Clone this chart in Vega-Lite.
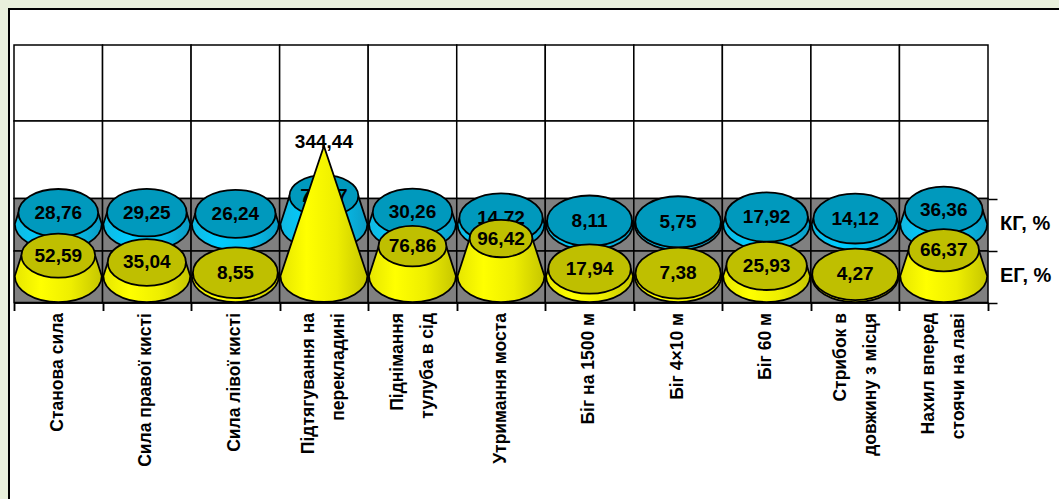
{
"$schema":"https://vega.github.io/schema/vega-lite/v6.json",
"autosize":"none",
"padding":{"left":9,"top":9,"right":0,"bottom":0},
"width":1051,"height":491,
"background":"#e9f0dc",
"config":{"view":{"fill":"white","stroke":"black","strokeWidth":2},"font":"Liberation Sans"},
"resolve":{"axis":{"x":"independent"}},
"data":{"values":[
{"category":"Станова сила","series":"КГ, %","value":28.76,"label":"28,76"},
{"category":"Сила правої кисті","series":"КГ, %","value":29.25,"label":"29,25"},
{"category":"Сила лівої кисті","series":"КГ, %","value":26.24,"label":"26,24"},
{"category":"Підтягування на|перекладині","series":"КГ, %","value":72.77,"label":"72,77"},
{"category":"Піднімання|тулуба в сід","series":"КГ, %","value":30.26,"label":"30,26"},
{"category":"Утримання моста","series":"КГ, %","value":14.72,"label":"14,72"},
{"category":"Біг на 1500 м","series":"КГ, %","value":8.11,"label":"8,11"},
{"category":"Біг 4×10 м","series":"КГ, %","value":5.75,"label":"5,75"},
{"category":"Біг 60 м","series":"КГ, %","value":17.92,"label":"17,92"},
{"category":"Стрибок в|довжину з місця","series":"КГ, %","value":14.12,"label":"14,12"},
{"category":"Нахил вперед|стоячи на лаві","series":"КГ, %","value":36.36,"label":"36,36"},
{"category":"Станова сила","series":"ЕГ, %","value":52.59,"label":"52,59"},
{"category":"Сила правої кисті","series":"ЕГ, %","value":35.04,"label":"35,04"},
{"category":"Сила лівої кисті","series":"ЕГ, %","value":8.55,"label":"8,55"},
{"category":"Підтягування на|перекладині","series":"ЕГ, %","value":344.44,"label":"344,44"},
{"category":"Піднімання|тулуба в сід","series":"ЕГ, %","value":76.86,"label":"76,86"},
{"category":"Утримання моста","series":"ЕГ, %","value":96.42,"label":"96,42"},
{"category":"Біг на 1500 м","series":"ЕГ, %","value":17.94,"label":"17,94"},
{"category":"Біг 4×10 м","series":"ЕГ, %","value":7.38,"label":"7,38"},
{"category":"Біг 60 м","series":"ЕГ, %","value":25.93,"label":"25,93"},
{"category":"Стрибок в|довжину з місця","series":"ЕГ, %","value":4.27,"label":"4,27"},
{"category":"Нахил вперед|стоячи на лаві","series":"ЕГ, %","value":66.37,"label":"66,37"}
]},
"encoding":{
"x":{"field":"category","type":"nominal","sort":null,"axis":null,
"scale":{"domain":["Станова сила","Сила правої кисті","Сила лівої кисті","Підтягування на|перекладині","Піднімання|тулуба в сід","Утримання моста","Біг на 1500 м","Біг 4×10 м","Біг 60 м","Стрибок в|довжину з місця","Нахил вперед|стоячи на лаві"],"range":[5,979],"paddingInner":0,"paddingOuter":0}},
"shape":{"field":"value","type":"nominal","legend":null,"scale":{
"domain":[28.76,29.25,26.24,72.77,30.26,14.72,8.11,5.75,17.92,14.12,36.36,52.59,35.04,8.55,344.44,76.86,96.42,17.94,7.38,25.93,4.27,66.37],
"range":[
"M-43.5,11.19A43.5,26,0,0,0,43.5,11.19L39.87,0L-39.87,0Z",
"M-43.5,11.38A43.5,26,0,0,0,43.5,11.38L39.81,0L-39.81,0Z",
"M-43.5,10.21A43.5,26,0,0,0,43.5,10.21L40.19,0L-40.19,0Z",
"M-43.5,28.31A43.5,26,0,0,0,43.5,28.31L34.31,0L-34.31,0Z",
"M-43.5,11.77A43.5,26,0,0,0,43.5,11.77L39.68,0L-39.68,0Z",
"M-43.5,5.73A43.5,26,0,0,0,43.5,5.73L41.64,0L-41.64,0Z",
"M-43.5,3.15A43.5,26,0,0,0,43.5,3.15L42.48,0L-42.48,0Z",
"M-43.5,2.24A43.5,26,0,0,0,43.5,2.24L42.77,0L-42.77,0Z",
"M-43.5,6.97A43.5,26,0,0,0,43.5,6.97L41.24,0L-41.24,0Z",
"M-43.5,5.49A43.5,26,0,0,0,43.5,5.49L41.72,0L-41.72,0Z",
"M-43.5,14.14A43.5,26,0,0,0,43.5,14.14L38.91,0L-38.91,0Z",
"M-43.5,20.46A43.5,26,0,0,0,43.5,20.46L36.86,0L-36.86,0Z",
"M-43.5,13.63A43.5,26,0,0,0,43.5,13.63L39.07,0L-39.07,0Z",
"M-43.5,3.33A43.5,26,0,0,0,43.5,3.33L42.42,0L-42.42,0Z",
"M-43.5,134A43.5,26,0,0,0,43.5,134L0,4Z",
"M-43.5,29.9A43.5,26,0,0,0,43.5,29.9L33.79,0L-33.79,0Z",
"M-43.5,37.51A43.5,26,0,0,0,43.5,37.51L31.32,0L-31.32,0Z",
"M-43.5,6.98A43.5,26,0,0,0,43.5,6.98L41.23,0L-41.23,0Z",
"M-43.5,2.87A43.5,26,0,0,0,43.5,2.87L42.57,0L-42.57,0Z",
"M-43.5,10.09A43.5,26,0,0,0,43.5,10.09L40.23,0L-40.23,0Z",
"M-43.5,1.66A43.5,26,0,0,0,43.5,1.66L42.96,0L-42.96,0Z",
"M-43.5,25.82A43.5,26,0,0,0,43.5,25.82L35.12,0L-35.12,0Z"]}}
},
"layer":[
{"transform":[{"filter":"datum.series==='КГ, %'"}],"mark":{"type":"rect","fill":"white","stroke":"black","strokeWidth":1.5},
"encoding":{"shape":null,
"x":{"field":"category","type":"nominal","sort":null,"axis":{"title":null,"offset":-197.5,"orient":"bottom","tickBand":"extent","tickSize":8,"tickWidth":1.5,"tickColor":"black","domainColor":"black","domainWidth":1.5,"labelAngle":-90,"labelAlign":"right","labelBaseline":"middle","labelPadding":2,"labelFont":"Liberation Sans","labelFontWeight":"bold","labelFontSize":17.5,"labelColor":"black","labelOverlap":false,"labelLimit":0,"labelOffset":-1,
"labelExpr":"indexof(datum.label,'|')>=0 ? '' : datum.label"}},
"y":{"datum":593.8,"type":"quantitative","scale":{"domain":[-68,593.8],"range":[293.5,36],"nice":false,"zero":false},
"axis":{"title":null,"orient":"right","offset":-72,"values":[-68,64.3,199.2],"grid":false,"labels":false,"domain":false,"tickSize":9,"tickWidth":1.5,"tickColor":"black"}},"y2":{"datum":398.5}}},
{"transform":[{"filter":"datum.series==='КГ, %'"}],"mark":{"type":"rect","fill":"white","stroke":"black","strokeWidth":1.5},
"encoding":{"shape":null,
"x":{"field":"category","type":"nominal","sort":null,"axis":{"title":null,"offset":-197.5,"orient":"bottom","tickBand":"extent","tickSize":8,"tickWidth":1.5,"tickColor":"black","domainColor":"black","domainWidth":1.5,"labelAngle":-90,"labelAlign":"right","labelBaseline":"middle","labelPadding":2,"labelFont":"Liberation Sans","labelFontWeight":"bold","labelFontSize":17.5,"labelColor":"black","labelLineHeight":30,"labelOverlap":false,"labelLimit":0,"labelOffset":-15,
"labelExpr":"indexof(datum.label,'|')>=0 ? split(replace(replace(replace(datum.label,'Стрибок в','Стрибок в\u00a0\u00a0\u00a0\u00a0\u00a0\u00a0\u00a0'),'Піднімання','Піднімання\u00a0\u00a0\u00a0'),'перекладині','перекладині\u00a0\u00a0\u00a0\u00a0'),'|') : ''"}},
"y":{"datum":398.5,"type":"quantitative"},"y2":{"datum":199.2}}},
{"transform":[{"filter":"datum.series==='КГ, %'"}],"mark":{"type":"rect","fill":"#808080","stroke":"black","strokeWidth":1.5},
"encoding":{"shape":null,"y":{"datum":199.2,"type":"quantitative"},"y2":{"datum":64.3}}},
{"transform":[{"filter":"datum.series==='КГ, %'"}],"mark":{"type":"rect","fill":"#808080","stroke":"black","strokeWidth":1.5},
"encoding":{"shape":null,"y":{"datum":64.3,"type":"quantitative"},"y2":{"datum":-68}}},

{"transform":[{"filter":"datum.series==='КГ, %'"}],
"mark":{"type":"point","filled":true,"size":4,"yOffset":-52,"stroke":"black","strokeWidth":1.8,"strokeOpacity":1,"opacity":1,
"fill":{"gradient":"linear","x1":0,"y1":0,"x2":1,"y2":0,"stops":[{"offset":0,"color":"#12b8e0"},{"offset":0.3,"color":"#00ccff"},{"offset":0.65,"color":"#05bfee"},{"offset":1,"color":"#0b9cc4"}]}},
"encoding":{"y":{"field":"value","type":"quantitative"}}},
{"transform":[{"filter":"datum.series==='КГ, %'"}],
"mark":{"type":"point","filled":true,"yOffset":-52,"fill":"#0099bd","stroke":"black","strokeWidth":1.8,"opacity":1,
"shape":"M-43.5,0A43.5,26,0,1,0,43.5,0A43.5,26,0,1,0,-43.5,0Z"},
"encoding":{"shape":null,"y":{"field":"value","type":"quantitative"},
"size":{"field":"value","type":"quantitative","legend":null,"scale":{"domain":[0,25,50,100,150,200,250,300,344.44],"range":[4,3.44,2.923,2.015,1.275,0.703,0.301,0.0666,0]}}}},
{"transform":[{"filter":"datum.series==='КГ, %'"}],
"mark":{"type":"text","yOffset":-52,"font":"Liberation Sans","fontWeight":"bold","fontSize":19,"color":"black","baseline":"middle"},
"encoding":{"shape":null,"y":{"field":"value","type":"quantitative"},"text":{"field":"label"}}},

{"transform":[{"filter":"datum.series==='ЕГ, %'"}],
"mark":{"type":"point","filled":true,"size":4,"stroke":"black","strokeWidth":1.8,"strokeOpacity":1,"opacity":1,
"fill":{"gradient":"linear","x1":0,"y1":0,"x2":1,"y2":0,"stops":[{"offset":0,"color":"#e6e600"},{"offset":0.3,"color":"#ffff00"},{"offset":0.65,"color":"#eeee00"},{"offset":1,"color":"#c6c600"}]}},
"encoding":{"y":{"field":"value","type":"quantitative"}}},
{"transform":[{"filter":"datum.series==='ЕГ, %' && datum.value<300"}],
"mark":{"type":"point","filled":true,"fill":"#bfbf00","stroke":"black","strokeWidth":1.8,"opacity":1,
"shape":"M-43.5,0A43.5,26,0,1,0,43.5,0A43.5,26,0,1,0,-43.5,0Z"},
"encoding":{"shape":null,"y":{"field":"value","type":"quantitative"},
"size":{"field":"value","type":"quantitative","legend":null,"scale":{"domain":[0,25,50,100,150,200,250,300,344.44],"range":[4,3.44,2.923,2.015,1.275,0.703,0.301,0.0666,0]}}}},
{"transform":[{"filter":"datum.series==='ЕГ, %'"}],
"mark":{"type":"text","font":"Liberation Sans","fontWeight":"bold","fontSize":19,"color":"black","baseline":"middle"},
"encoding":{"shape":null,"y":{"field":"value","type":"quantitative"},"text":{"field":"label"}}},

{"transform":[{"filter":"datum.series==='КГ, %' && datum.value===36.36"}],
"mark":{"type":"text","align":"left","dx":12,"yOffset":-52,"font":"Liberation Sans","fontWeight":"bold","fontSize":20,"color":"black","baseline":"middle"},
"encoding":{"shape":null,"x":{"field":"category","type":"nominal","bandPosition":1,"sort":null,"axis":null},"y":{"datum":0,"type":"quantitative"},"text":{"field":"series"}}},
{"transform":[{"filter":"datum.series==='ЕГ, %' && datum.value===66.37"}],
"mark":{"type":"text","align":"left","dx":12,"font":"Liberation Sans","fontWeight":"bold","fontSize":20,"color":"black","baseline":"middle"},
"encoding":{"shape":null,"x":{"field":"category","type":"nominal","bandPosition":1,"sort":null,"axis":null},"y":{"datum":0,"type":"quantitative"},"text":{"field":"series"}}}
]
}
